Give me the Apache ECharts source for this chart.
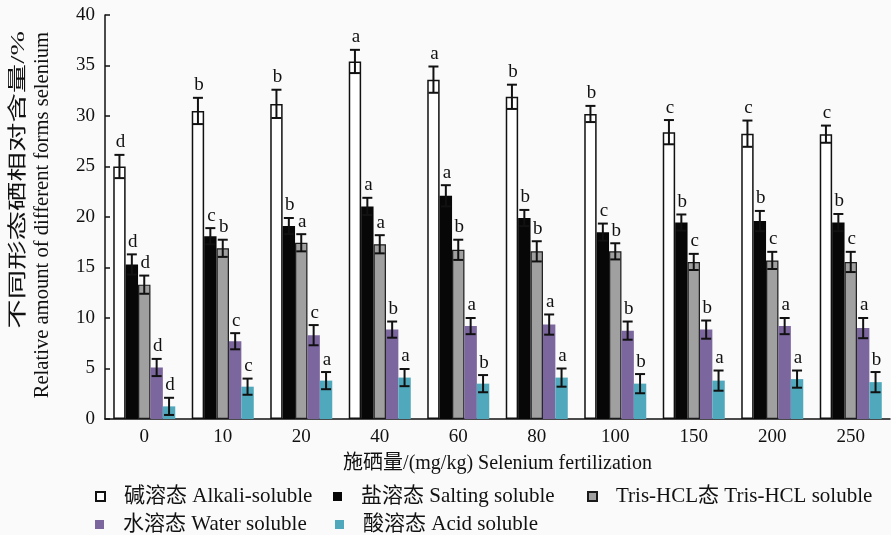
<!DOCTYPE html>
<html>
<head>
<meta charset="utf-8">
<script src="https://cdn.jsdelivr.net/npm/echarts@6/dist/echarts.min.js"></script>
<style>html,body{margin:0;padding:0;background:#fafafa}#c{width:891px;height:535px}</style>
</head>
<body>
<div id="c"></div>
<script>
const categories = ['0','10','20','40','60','80','100','150','200','250'];
const yTicks = [0,5,10,15,20,25,30,35,40];

const seriesNames = ['碱溶态 Alkali-soluble','盐溶态 Salting soluble','Tris-HCL态 Tris-HCL soluble','水溶态 Water soluble','酸溶态 Acid soluble'];

const alkali    = [25.0, 30.5, 31.2, 35.4, 33.6, 31.9, 30.2, 28.4, 28.25, 28.2];
const alkaliErr = [1.15, 1.3, 1.4, 1.15, 1.3, 1.2, 0.8, 1.2, 1.3, 0.85];
const alkaliSig = ['d','b','b','a','a','b','b','c','c','c'];

const salt    = [15.3, 18.1, 19.1, 21.05, 22.1, 19.9, 18.5, 19.45, 19.6, 19.45];
const saltErr = [1.0, 0.8, 0.8, 0.85, 1.05, 0.8, 0.85, 0.8, 1.0, 0.85];
const saltSig = ['d','c','b','a','a','b','c','b','b','b'];

const tris    = [13.3, 16.9, 17.45, 17.3, 16.75, 16.6, 16.6, 15.55, 15.7, 15.55];
const trisErr = [0.9, 0.85, 0.85, 0.9, 1.0, 1.0, 0.8, 0.8, 0.85, 1.0];
const trisSig = ['d','b','a','a','b','b','b','c','c','c'];

const water    = [5.1, 7.7, 8.3, 8.85, 9.2, 9.35, 8.75, 8.85, 9.2, 9.0];
const waterErr = [0.85, 0.8, 1.0, 0.8, 0.8, 1.0, 0.9, 0.9, 0.8, 1.0];
const waterSig = ['d','c','c','b','a','a','b','b','a','a'];

const acid    = [1.25, 3.2, 3.8, 4.1, 3.5, 4.1, 3.5, 3.8, 3.95, 3.65];
const acidErr = [0.85, 0.8, 0.85, 0.85, 0.85, 0.9, 0.95, 1.0, 0.85, 1.0];
const acidSig = ['d','c','a','a','b','a','b','a','a','b'];

const SERIF = '"Liberation Serif","Noto Sans CJK SC",serif';
const CAT_GAP = 0.21;
const N = 5;

const styles = [
  {color:'#ffffff', borderColor:'#111111', borderWidth:1.5},
  {color:'#070707', borderColor:'#070707', borderWidth:0},
  {color:'#a0a0a0', borderColor:'#1a1a1a', borderWidth:1.2},
  {color:'#7b669e', borderWidth:0},
  {color:'#4fa8bb', borderWidth:0}
];

const vals = [alkali, salt, tris, water, acid];
const errs = [alkaliErr, saltErr, trisErr, waterErr, acidErr];
const sigs = [alkaliSig, saltSig, trisSig, waterSig, acidSig];

function barSeries(k){
  return {
    type:'bar', name: seriesNames[k], data: vals[k],
    barGap:'0%', barCategoryGap:(CAT_GAP*100)+'%',
    itemStyle: styles[k], z:2
  };
}

function errSeries(k){
  const v = vals[k], e = errs[k], s = sigs[k];
  return {
    type:'custom', name:'err'+k, silent:true, z:10,
    data: v.map((val,i)=>[i, val, e[i]]),
    encode:{x:0, y:1},
    renderItem:function(params, api){
      const ci = api.value(0), val = api.value(1), er = api.value(2);
      const band = api.size([1,0])[0];
      const bw = band*(1-CAT_GAP)/N;
      const c = api.coord([ci, val]);
      const x = c[0] + (k-(N-1)/2)*bw;
      const yT = api.coord([ci, val+er])[1];
      const yB = api.coord([ci, Math.max(0,val-er)])[1];
      const hw = 5;
      const ls = {stroke:'#111', lineWidth:2};
      return {type:'group', children:[
        {type:'line', shape:{x1:x,y1:yT,x2:x,y2:yB}, style:ls},
        {type:'line', shape:{x1:x-hw,y1:yT,x2:x+hw,y2:yT}, style:ls},
        {type:'line', shape:{x1:x-hw,y1:yB,x2:x+hw,y2:yB}, style:ls},
        {type:'text', x:x+1, y:yT-3, style:{text:s[params.dataIndex], textAlign:'center', textVerticalAlign:'bottom', font:'19px '+SERIF, fill:'#111'}}
      ]};
    }
  };
}

const legendPos = [[95,486],[333,486],[587,486],[95,514],[335,514]];

const option = {
  backgroundColor:'#fafafa',
  animation:false,
  grid:{left:105, right:1, top:15, bottom:116, containLabel:false},
  legend: seriesNames.map((n,k)=>({
    data:[n], left:legendPos[k][0], top:legendPos[k][1], padding:0,
    itemWidth:9, itemHeight:9, icon:'rect', selectedMode:false,
    textStyle:{fontSize:21, fontFamily:SERIF, color:'#111', padding:[0,0,0,14]}
  })),
  xAxis:{
    type:'category', data:categories,
    name:'施硒量/(mg/kg) Selenium fertilization', nameLocation:'middle', nameGap:35,
    nameTextStyle:{fontSize:20, fontFamily:SERIF, color:'#111'},
    axisLine:{lineStyle:{color:'#111', width:1.5}},
    axisTick:{inside:true, length:6, lineStyle:{color:'#111', width:1.5}},
    axisLabel:{fontSize:19, fontFamily:SERIF, color:'#111', margin:9}
  },
  yAxis:{
    type:'value', min:yTicks[0], max:yTicks[yTicks.length-1], interval:yTicks[1]-yTicks[0],
    axisLine:{show:true, lineStyle:{color:'#111', width:1.5}},
    axisTick:{show:true, inside:true, length:5, lineStyle:{color:'#111', width:1.5}},
    axisLabel:{fontSize:19, fontFamily:SERIF, color:'#111', margin:10},
    splitLine:{show:false}
  },
  graphic:[
    {type:'text', x:19, y:31, rotation:Math.PI/2, scaleX:1.55,
     style:{text:'不同形态硒相对含量/%', textAlign:'right', textVerticalAlign:'middle', font:'19px '+SERIF, fill:'#111'}},
    {type:'text', x:43, y:32, rotation:Math.PI/2, scaleX:1.03,
     style:{text:'Relative amount of different forms selenium', textAlign:'right', textVerticalAlign:'middle', font:'20px '+SERIF, fill:'#111'}}
  ],
  series: [0,1,2,3,4].map(barSeries).concat([0,1,2,3,4].map(errSeries))
};

const chart = echarts.init(document.getElementById('c'), null, {renderer:'canvas'});
chart.setOption(option);
</script>
</body>
</html>
